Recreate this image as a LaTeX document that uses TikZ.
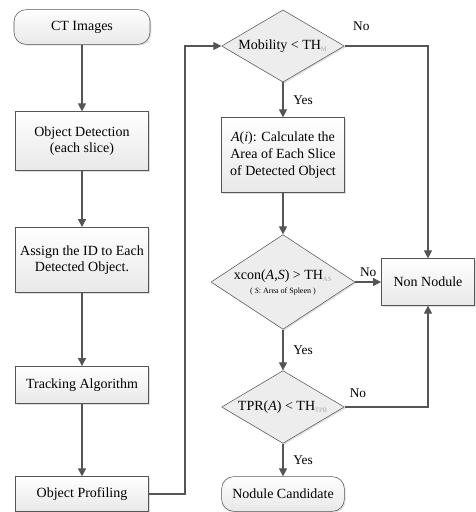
\documentclass[tikz,border=0pt]{standalone}
\usepackage{fontspec}
\setmainfont{Liberation Serif}
\usepackage{xcolor}
\usetikzlibrary{shapes.geometric,arrows.meta,shadows}
\definecolor{linegray}{HTML}{555555}
\definecolor{subgray}{HTML}{A8A8A8}
\newcommand{\thsub}[1]{\textsubscript{\textcolor{subgray}{\tiny #1}}}
\tikzset{every node/.style={align=center,font=\fontsize{10.5}{12.5}\selectfont}}

\begin{document}
\begin{tikzpicture}[x=0.75pt,y=-0.75pt,>={Triangle[width=6pt,length=6pt]},
  box/.style={rectangle,draw=linegray,top color=white,bottom color=gray!18,
    drop shadow={opacity=0.25,shadow xshift=1pt,shadow yshift=-1pt},minimum width=100pt,inner sep=2pt},
  term/.style={box,rounded corners=9pt},
  test/.style={diamond,draw=linegray,fill=gray!14,inner sep=0pt,aspect=1.5,
    drop shadow={opacity=0.25,shadow xshift=1pt,shadow yshift=-1pt}},
  arr/.style={->,draw=linegray,line width=0.8pt},
  lbl/.style={font=\fontsize{10}{12}\selectfont}]
\useasboundingbox (0,0) rectangle (476,512);

% left column
\node[term,minimum width=102pt,minimum height=26pt] (ct) at (82,27) {CT Images};
\node[box,minimum height=44pt] (det) at (82,141) {Object Detection\\(each slice)};
\node[box,minimum height=49pt] (assign) at (82,260) {Assign the ID to Each\\Detected Object.};
\node[box,minimum height=28pt] (track) at (82,385) {Tracking Algorithm};
\node[box,minimum height=26pt] (prof) at (82,494) {Object Profiling};

% right column
\node[test,minimum width=92pt,minimum height=54pt] (mob) at (283,46) {Mobility < TH\thsub{M}};
\node[box,minimum width=92pt,minimum height=56pt] (area) at (283,155) {\textit{A}(\textit{i}): Calculate the\\Area of Each Slice\\of Detected Object};
\node[test,minimum width=108pt,minimum height=71pt] (xcon) at (283,282) {xcon(\textit{A},\textit{S}) > TH\thsub{AS}\\[-2pt]{\fontsize{6}{7}\selectfont( \textit{S}: Area of Spleen )}};
\node[test,minimum width=92pt,minimum height=53pt] (tpr) at (283,407) {TPR(\textit{A}) < TH\thsub{TPR}};
\node[term,minimum width=92pt,minimum height=26pt] (cand) at (283,494) {Nodule Candidate};
\node[box,minimum width=70pt,minimum height=35pt] (non) at (428,282) {Non Nodule};

\coordinate (bend) at (185,46);

\draw[arr] (ct) -- (det);
\draw[arr] (det) -- (assign);
\draw[arr] (assign) -- (track);
\draw[arr] (track) -- (prof);
\draw[arr] (prof.east) -| (bend) -- (mob.west);

\draw[arr] (mob) -- node[lbl,right=4pt] {Yes} (area);
\draw[arr] (mob.east) -| node[lbl,pos=0.1,above=8pt] {No} (non.north);
\draw[arr] (area) -- (xcon);
\draw[arr] (xcon.east) -- node[lbl,above] {No} (non.west);
\draw[arr] (xcon) -- node[lbl,right=4pt] {Yes} (tpr);
\draw[arr] (tpr.east) -| node[lbl,pos=0.08,above=3pt] {No} (non.south);
\draw[arr] (tpr) -- node[lbl,right=4pt] {Yes} (cand);

\end{tikzpicture}
\end{document}
